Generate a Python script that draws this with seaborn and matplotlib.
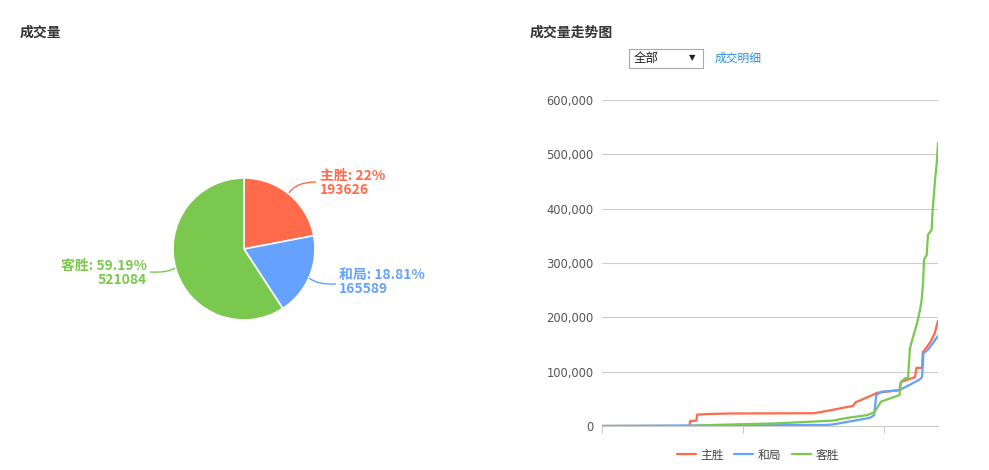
import matplotlib
matplotlib.use("Agg")
import matplotlib.pyplot as plt
import seaborn as sns
import pandas as pd
import numpy as np
from matplotlib.patches import Rectangle, PathPatch
from matplotlib.path import Path
from matplotlib.ticker import FuncFormatter

sns.set_theme(style="white")
plt.rcParams['font.family'] = ['Noto Sans CJK SC', 'DejaVu Sans']

# ---------------- data ----------------
outcomes = ["主胜", "和局", "客胜"]
totals = [193626, 165589, 521084]
pct_labels = ["22%", "18.81%", "59.19%"]
colors = ["#FF6A4A", "#65A1FF", "#7BC84F"]

home_x = [0, 62, 62.5, 67, 67.5, 75, 90, 150, 156, 164, 170, 178, 180, 183, 190, 195, 211, 212, 222, 223, 227, 227.5, 230, 233, 236, 238.3]
home_y = [0, 0, 9000, 10000, 21000, 22000, 23000, 23500, 26000, 30000, 33000, 37000, 44000, 47000, 55000, 61000, 66000, 81000, 90000, 107000, 107000, 136000, 144000, 155000, 171000, 193626]

draw_x = [0, 30, 100, 160, 164, 175, 190, 193, 194.5, 198, 211, 225, 227, 228, 231, 234.5, 238.3]
draw_y = [0, 500, 1500, 2000, 3000, 8000, 15000, 20000, 57000, 63000, 66000, 85000, 90000, 134000, 140000, 152000, 165589]

away_x = [0, 62, 80, 125, 164, 174, 188, 193, 195, 198, 211, 212, 215, 217, 218.4, 220.6, 223.4, 225.5, 226.7, 227.7, 228.4, 230.3, 231.2, 233.8, 234.5, 236.2, 237.4, 238.3]
away_y = [0, 0, 2000, 5000, 10000, 15000, 20000, 25000, 33000, 45000, 57000, 81000, 88000, 88000, 143000, 164000, 189000, 213000, 232000, 263000, 306000, 315000, 352000, 361000, 398000, 453000, 484000, 521084]

y_ticks = [0, 100000, 200000, 300000, 400000, 500000, 600000]
x_ticks = [0, 100, 200]

# ---------------- figure ----------------
W, H = 989, 470
fig = plt.figure(figsize=(W / 100, H / 100), dpi=100)
fig.patch.set_facecolor("white")

def fx(px):
    return px / W

def fy(py):
    return 1 - py / H

title_color = "#333333"
fig.text(fx(20), fy(33), "成交量", fontsize=10, fontweight="bold", color=title_color, va="center", ha="left")
fig.text(fx(530), fy(33), "成交量走势图", fontsize=10, fontweight="bold", color=title_color, va="center", ha="left")

# dropdown + link
fig.patches.append(Rectangle((fx(629), fy(68)), fx(703) - fx(629), fy(49) - fy(68),
                             transform=fig.transFigure, facecolor="white", edgecolor="#a9a9a9", lw=0.8))
fig.text(fx(634), fy(58.5), "全部", fontsize=9, color="#222222", va="center", ha="left")
fig.text(fx(692), fy(58), "▼", fontsize=6, color="#222222", va="center", ha="center",
         family=["DejaVu Sans"])
fig.text(fx(715), fy(58.5), "成交明细", fontsize=8.5, color="#2E8FD6", va="center", ha="left")

# ---------------- pie ----------------
cx, cy, R = 244, 249, 71
pie_ax = fig.add_axes([fx(cx - 2 * R), fy(cy + 2 * R), 4 * R / W, 4 * R / H])
pie_ax.pie(totals, colors=colors, startangle=90, counterclock=False, radius=1,
           wedgeprops=dict(edgecolor="white", linewidth=1.2))
pie_ax.set_xlim(-2, 2)
pie_ax.set_ylim(-2, 2)
pie_ax.axis("off")

def leader(p0, p1, p2, color):
    verts = [(fx(p0[0]), fy(p0[1])), (fx(p1[0]), fy(p1[1])), (fx(p2[0]), fy(p2[1]))]
    path = Path(verts, [Path.MOVETO, Path.CURVE3, Path.CURVE3])
    fig.patches.append(PathPatch(path, transform=fig.transFigure, facecolor="none", edgecolor=color, lw=1.0))

leader((289, 193), (296, 182), (316, 182), colors[0])
leader((309, 278), (318, 285), (336, 284), colors[1])
leader((175, 268), (168, 273), (150, 272), colors[2])

fs_lab = 10
fig.text(fx(320), fy(176), f"{outcomes[0]}: {pct_labels[0]}", color=colors[0], fontsize=fs_lab, fontweight="bold", va="center", ha="left")
fig.text(fx(320), fy(190), f"{totals[0]}", color=colors[0], fontsize=fs_lab, fontweight="bold", va="center", ha="left")
fig.text(fx(339), fy(275), f"{outcomes[1]}: {pct_labels[1]}", color=colors[1], fontsize=fs_lab, fontweight="bold", va="center", ha="left")
fig.text(fx(339), fy(289), f"{totals[1]}", color=colors[1], fontsize=fs_lab, fontweight="bold", va="center", ha="left")
fig.text(fx(147), fy(266), f"{outcomes[2]}: {pct_labels[2]}", color=colors[2], fontsize=fs_lab, fontweight="bold", va="center", ha="right")
fig.text(fx(147), fy(280), f"{totals[2]}", color=colors[2], fontsize=fs_lab, fontweight="bold", va="center", ha="right")

# ---------------- trend lines ----------------
frames = []
for name, xs, ys in [(outcomes[0], home_x, home_y), (outcomes[1], draw_x, draw_y), (outcomes[2], away_x, away_y)]:
    frames.append(pd.DataFrame({"x": xs, "y": ys, "结果": name}))
df = pd.concat(frames, ignore_index=True)

ax = fig.add_axes([fx(602), fy(426), (938 - 602) / W, (426 - 100) / H])
sns.lineplot(data=df, x="x", y="y", hue="结果", hue_order=outcomes, palette=colors,
             estimator=None, sort=False, linewidth=1.6, ax=ax)
ax.set_xlim(0, 238.3)
ax.set_ylim(0, 600000)
ax.set_yticks(y_ticks)
ax.yaxis.set_major_formatter(FuncFormatter(lambda v, p: f"{int(v):,}"))
ax.set_xticks(x_ticks)
ax.set_xticklabels([])
ax.grid(axis="y", color="#cccccc", linewidth=0.8)
ax.set_axisbelow(True)
for s in ["top", "right", "left"]:
    ax.spines[s].set_visible(False)
ax.spines["bottom"].set_color("#cccccc")
ax.spines["bottom"].set_linewidth(0.8)
ax.tick_params(axis="y", length=0, pad=6, labelsize=8.3, labelcolor="#555555")
ax.tick_params(axis="x", bottom=True, length=5, width=0.8, color="#cccccc", direction="out")
ax.set_xlabel("")
ax.set_ylabel("")
for lab in ax.get_yticklabels():
    lab.set_family(["DejaVu Sans"])

leg = ax.legend(loc="center", bbox_to_anchor=(fx(758), fy(455)), bbox_transform=fig.transFigure,
                ncol=3, frameon=False, fontsize=8.5, handlelength=1.6, handletextpad=0.4,
                columnspacing=0.9)
for t in leg.get_texts():
    t.set_color("#444444")

fig.savefig("out.png", dpi=100, facecolor="white")
